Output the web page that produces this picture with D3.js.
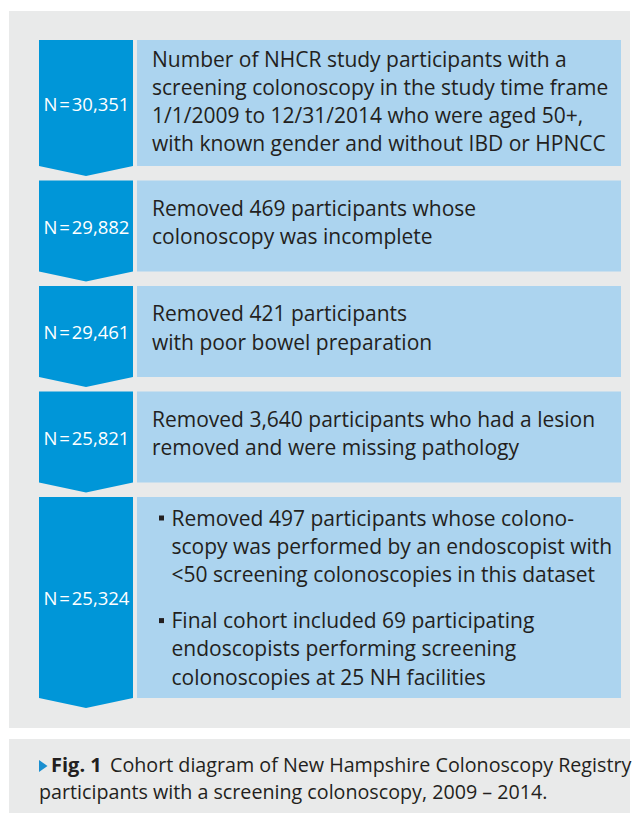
<!DOCTYPE html>
<html><head><meta charset="utf-8">
<script src="https://cdn.jsdelivr.net/npm/d3@7"></script>
<style>body{margin:0;background:#fff}</style>
</head><body>
<script>
// ---- data ----
const counts = [30351, 29882, 29461, 25821, 25324];
const stepTexts = [
  [["Number of NHCR study participants with a",
    "screening colonoscopy in the study time frame",
    "1/1/2009 to 12/31/2014 who were aged 50+,",
    "with known gender and without IBD or HPNCC"]],
  [["Removed 469 participants whose",
    "colonoscopy was incomplete"]],
  [["Removed 421 participants",
    "with poor bowel preparation"]],
  [["Removed 3,640 participants who had a lesion",
    "removed and were missing pathology"]],
  [["Removed 497 participants whose colono-",
    "scopy was performed by an endoscopist with",
    "<50 screening colonoscopies in this dataset"],
   ["Final cohort included 69 participating",
    "endoscopists performing screening",
    "colonoscopies at 25 NH facilities"]]
];
const bulleted = [false, false, false, false, true];
const captionLabel = "Fig. 1";
const captionLines = ["Cohort diagram of New Hampshire Colonoscopy Registry",
                      "participants with a screening colonoscopy, 2009 – 2014."];

// ---- style / layout ----
const W = 639, H = 813;
const FONT = "'Open Sans', 'Noto Sans', sans-serif";
const C = {panel:"#e9eaea", dark:"#0096d8", light:"#acd4ef", text:"#231f20", tri:"#1a8fd0"};
const lineH = 28.2, groupGap = 18, minH = 91, boxGap = 14.5, tip = 10;
const x0 = 39, x1 = 133, lx0 = 137, lx1 = 621;

const svg = d3.select("body").append("svg").attr("width", W).attr("height", H)
  .style("font-family", FONT);

// outer panels
svg.append("rect").attr("x", 9).attr("y", 11).attr("width", 621).attr("height", 717).attr("fill", C.panel);
svg.append("rect").attr("x", 9).attr("y", 739).attr("width", 621).attr("height", 74).attr("fill", C.panel);

// compute box geometry from line counts
const fmt = d3.format(",");
let y = 40;
const boxes = stepTexts.map((groups, i) => {
  const nLines = d3.sum(groups, g => g.length);
  const h = Math.max(minH, nLines * 28 + (groups.length - 1) * 19 + 14);
  const b = {i, groups, top: y, h, bottom: y + h, bullet: bulleted[i], count: counts[i], nLines};
  y += h + boxGap;
  return b;
});

const g = svg.selectAll("g.step").data(boxes).join("g").attr("class", "step");

// dark arrow shapes
g.append("path")
  .attr("d", d => {
    const xc = (x0 + x1) / 2;
    return d3.line()([[x0, d.top], [x1, d.top], [x1, d.bottom], [xc, d.bottom + tip], [x0, d.bottom]]) + "Z";
  })
  .attr("fill", C.dark);

// light boxes
g.append("rect")
  .attr("x", lx0).attr("y", d => d.top)
  .attr("width", lx1 - lx0).attr("height", d => d.h)
  .attr("fill", C.light);

// N labels
g.append("text")
  .attr("x", (x0 + x1) / 2 + 0.5)
  .attr("y", d => d.top + d.h / 2 + 7.5)
  .attr("text-anchor", "middle")
  .attr("fill", "#fff")
  .attr("font-size", 18.5)
  .text(d => "N\u200a=\u200a" + fmt(d.count));

// body text
g.each(function(d) {
  const sel = d3.select(this);
  const blockH = (d.nLines - 1) * lineH + (d.groups.length - 1) * groupGap;
  const center = d.top + d.h / 2 - (d.nLines <= 2 ? 3.5 : 1.5) + (d.groups.length - 1) * 1.5;
  let by = center - blockH / 2 + 7.5; // baseline of first line
  d.groups.forEach((lines) => {
    if (d.bullet) {
      sel.append("rect").attr("x", 159).attr("y", by - 10).attr("width", 5).attr("height", 5).attr("fill", C.text);
    }
    lines.forEach((ln) => {
      sel.append("text")
        .attr("x", d.bullet ? 171.5 : 152)
        .attr("y", by)
        .attr("fill", C.text)
        .attr("font-size", 21)
        .text(ln);
      by += lineH;
    });
    by += groupGap;
  });
});

// caption
const cap = svg.append("g");
cap.append("path").attr("d", d3.line()([[39, 760], [39, 772], [47.5, 766]]) + "Z").attr("fill", C.tri);
cap.append("text").attr("x", 51).attr("y", 772).attr("font-size", 20).attr("font-weight", "bold")
  .attr("fill", C.text).text(captionLabel);
cap.append("text").attr("x", 110).attr("y", 772).attr("font-size", 19.7).attr("fill", C.text).text(captionLines[0]);
cap.append("text").attr("x", 39).attr("y", 799).attr("font-size", 19.7).attr("fill", C.text).text(captionLines[1]);
</script>
</body></html>
